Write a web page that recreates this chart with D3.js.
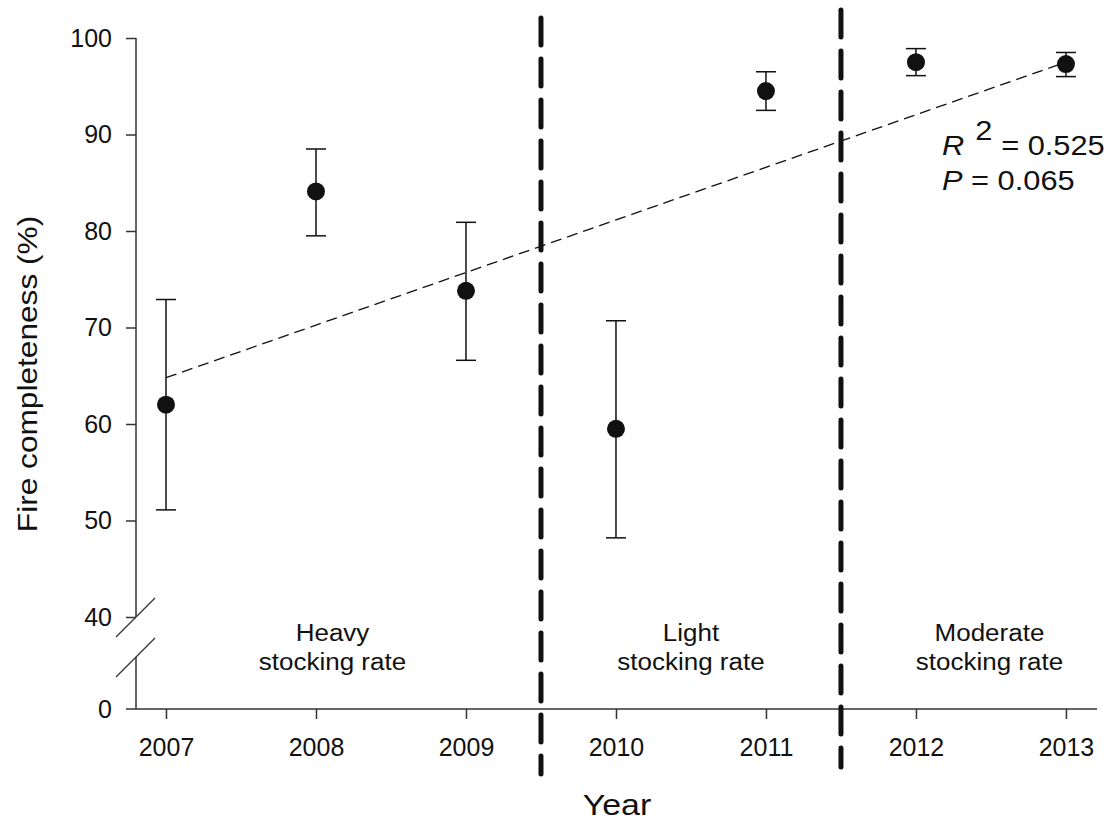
<!DOCTYPE html>
<html>
<head>
<meta charset="utf-8">
<script src="https://cdn.jsdelivr.net/npm/d3@7"></script>
<style>
  body { margin: 0; background: #fff; }
  text { font-family: "Liberation Sans", Arial, sans-serif; fill: #111; }
</style>
</head>
<body>
<div class="container__chart"></div>
<script>
//data
const years = [2007, 2008, 2009, 2010, 2011, 2012, 2013];
const means = [62.0, 84.1, 73.8, 59.5, 94.5, 97.5, 97.3];
const lower = [51.1, 79.5, 66.6, 48.2, 92.5, 96.1, 96.0];
const upper = [72.9, 88.5, 80.9, 70.7, 96.5, 98.9, 98.5];
const fitEnds = [[2007, 64.8], [2013, 97.5]];
const upperTicks = [40, 50, 60, 70, 80, 90, 100];
const lowerTicks = [0];
const phaseBreaks = [2009.5, 2011.5];
const phaseLabels = [
    { x: 2008.11, lines: ["Heavy", "stocking rate"] },
    { x: 2010.5, lines: ["Light", "stocking rate"] },
    { x: 2012.49, lines: ["Moderate", "stocking rate"] }
];

const CHART_WIDTH = 1120;
const CHART_HEIGHT = 826;
const AXIS_X = 136;
const AXIS_Y = 709;

const xScale = d3.scaleLinear().domain([2006.8, 2013.207]).range([AXIS_X, 1097]);
const yScale = d3.scaleLinear().domain([40, 100]).range([617, 38]);
const yLow = d3.scaleLinear().domain([0, 4]).range([AXIS_Y, 657]);

const svg = d3.select(".container__chart")
    .append("svg")
    .attr("width", CHART_WIDTH)
    .attr("height", CHART_HEIGHT);

// text that is a bit wider than Liberation Sans, like the original
const wideText = (x, y, size, sx, anchor) => svg.append("text")
    .attr("transform", `translate(${x},${y}) scale(${sx},1)`)
    .attr("text-anchor", anchor || "start")
    .style("font-size", size + "px");

//y axis (upper part)
const yAxis = svg.append("g")
    .attr("transform", `translate(${AXIS_X},0)`)
    .call(d3.axisLeft(yScale).tickValues(upperTicks).tickSize(10).tickPadding(14));
yAxis.select(".domain").attr("d", `M0,${yScale(100)}V${yScale(40)}`);

//y axis (lower part)
const yAxisLow = svg.append("g")
    .attr("transform", `translate(${AXIS_X},0)`)
    .call(d3.axisLeft(yLow).tickValues(lowerTicks).tickFormat(d3.format("d")).tickSize(0).tickPadding(24));
yAxisLow.select(".domain").attr("d", `M0,657V${AXIS_Y}`);

//x axis
const xAxis = svg.append("g")
    .attr("transform", `translate(0,${AXIS_Y})`)
    .call(d3.axisBottom(xScale).tickValues(years).tickFormat(d3.format("d")).tickSize(10).tickPadding(19));
xAxis.select(".domain").attr("d", `M${AXIS_X - 10},0H1097`);

svg.selectAll(".tick text").style("font-size", "25px").attr("fill", "#111");
svg.selectAll(".domain, .tick line").attr("stroke", "#333").attr("stroke-width", 1.5);

//break marks
[617, 657].forEach(y => {
    svg.append("line")
        .attr("x1", AXIS_X - 20).attr("y1", y + 20)
        .attr("x2", AXIS_X + 19).attr("y2", y - 19)
        .attr("stroke", "#333").attr("stroke-width", 1.3);
});

//phase dividers
svg.selectAll(".divider")
    .data(phaseBreaks)
    .enter()
    .append("line")
    .attr("class", "divider")
    .attr("x1", d => xScale(d)).attr("x2", d => xScale(d))
    .attr("y1", (d, i) => i === 0 ? 18 : 10)
    .attr("y2", (d, i) => i === 0 ? 774 : 767)
    .attr("stroke", "#111")
    .attr("stroke-width", 5)
    .attr("stroke-linecap", "round")
    .attr("stroke-dasharray", "27,14");

//phase labels
phaseLabels.forEach(p => {
    p.lines.forEach((l, i) => {
        wideText(xScale(p.x), 641 + i * 29, 23, 1.13, "middle").text(l);
    });
});

//regression line
svg.append("line")
    .attr("x1", xScale(fitEnds[0][0])).attr("y1", yScale(fitEnds[0][1]))
    .attr("x2", xScale(fitEnds[1][0])).attr("y2", yScale(fitEnds[1][1]))
    .attr("stroke", "#111")
    .attr("stroke-width", 1.3)
    .attr("stroke-dasharray", "11,6");

//error bars
const bars = svg.append("g");
years.forEach((yr, i) => {
    const x = xScale(yr);
    bars.append("line").attr("x1", x).attr("x2", x)
        .attr("y1", yScale(lower[i])).attr("y2", yScale(upper[i]));
    [lower[i], upper[i]].forEach(v => {
        bars.append("line").attr("x1", x - 10).attr("x2", x + 10)
            .attr("y1", yScale(v)).attr("y2", yScale(v));
    });
});
bars.selectAll("line").attr("stroke", "#111").attr("stroke-width", 1.5);

//points
svg.selectAll(".pt")
    .data(years)
    .enter()
    .append("circle")
    .attr("class", "pt")
    .attr("cx", d => xScale(d))
    .attr("cy", (d, i) => yScale(means[i]))
    .attr("r", 9)
    .attr("fill", "#111");

//stats
const r2 = wideText(942, 155, 28, 1.1);
r2.append("tspan").style("font-style", "italic").text("R");
r2.append("tspan").attr("dx", 10).attr("dy", -15).text("2");
r2.append("tspan").attr("dx", 8).attr("dy", 15).text("= 0.525");
const pv = wideText(942, 190, 28, 1.1);
pv.append("tspan").style("font-style", "italic").text("P");
pv.append("tspan").text(" = 0.065");

//axis titles
svg.append("text")
    .attr("transform", `translate(37,374) rotate(-90) scale(1.13,1)`)
    .attr("text-anchor", "middle")
    .style("font-size", "28px")
    .text("Fire completeness (%)");

wideText(617, 815, 30, 1.13, "middle").text("Year");
</script>
</body>
</html>
